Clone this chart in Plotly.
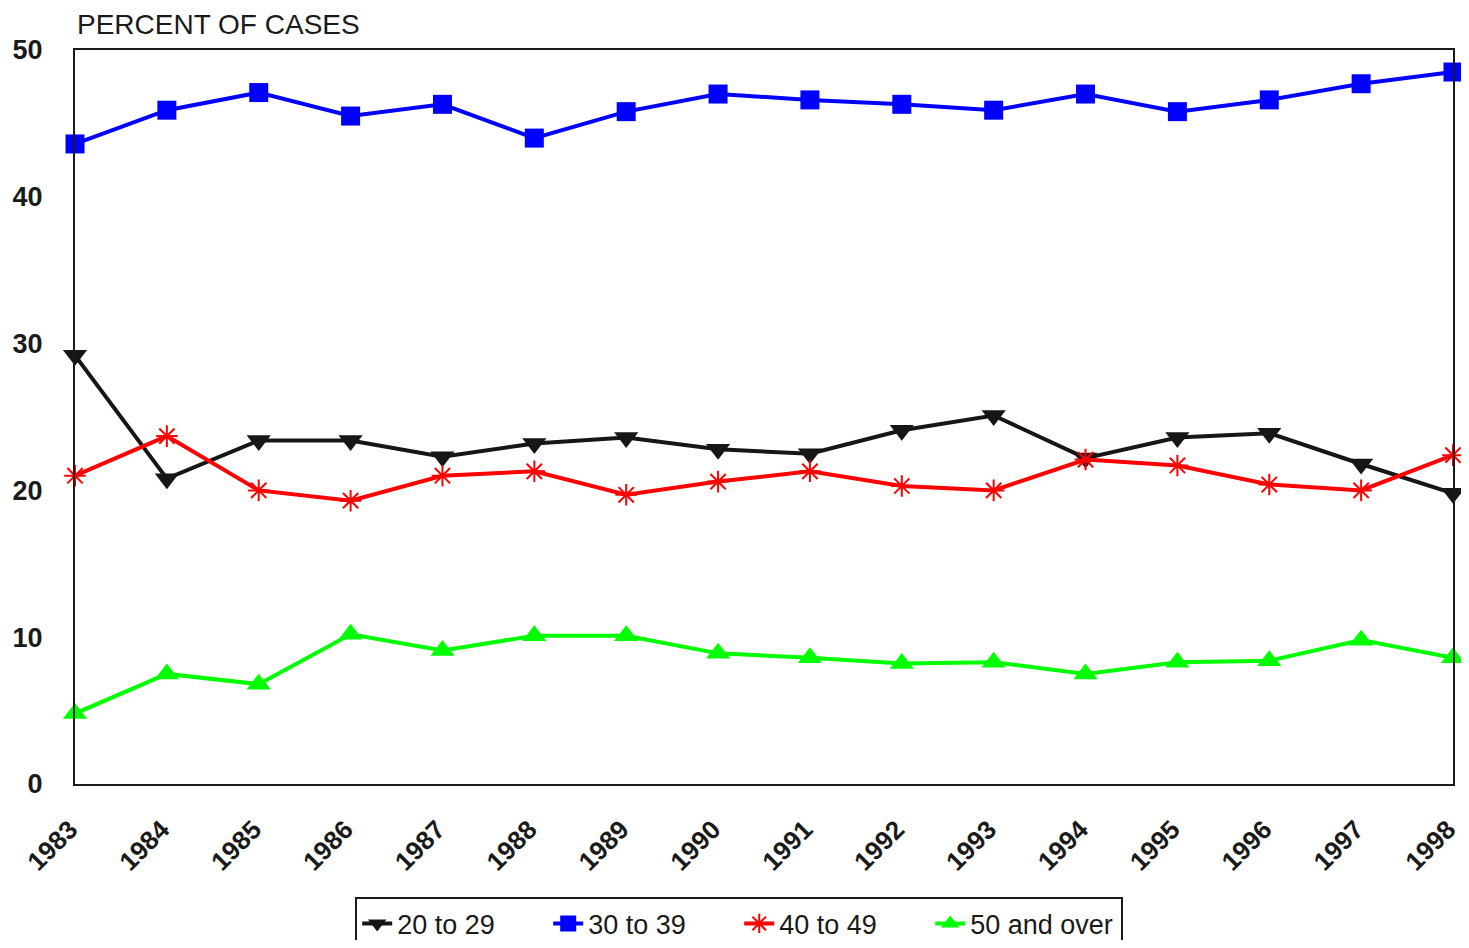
import plotly.graph_objects as go

years = [str(y) for y in range(1983, 1999)]
age_20_29 = [29.2, 20.8, 23.4, 23.4, 22.3, 23.2, 23.6, 22.8, 22.5, 24.1, 25.1, 22.2, 23.6, 23.9, 21.8, 19.8]
age_30_39 = [43.6, 45.9, 47.1, 45.5, 46.3, 44.0, 45.8, 47.0, 46.6, 46.3, 45.9, 47.0, 45.8, 46.6, 47.7, 48.5]
age_40_49 = [21.0, 23.7, 20.0, 19.3, 21.0, 21.3, 19.7, 20.6, 21.3, 20.3, 20.0, 22.1, 21.7, 20.4, 20.0, 22.4]
age_50_up = [4.8, 7.5, 6.8, 10.2, 9.1, 10.1, 10.1, 8.9, 8.6, 8.2, 8.3, 7.5, 8.3, 8.4, 9.8, 8.6]

series = [
    ("20 to 29", age_20_29, "#161616", "triangle-down", 21, None),
    ("30 to 39", age_30_39, "#0000ff", "square", 19, None),
    ("40 to 49", age_40_49, "#ff0000", "asterisk-open", 18, 2),
    ("50 and over", age_50_up, "#00ff00", "triangle-up", 21, None),
]

fig = go.Figure()
for name, vals, color, sym, size, lw in series:
    marker = dict(symbol=sym, size=size, color=color)
    if lw:
        marker["line"] = dict(color=color, width=lw)
    fig.add_trace(go.Scatter(
        x=years, y=vals, name=name, mode="lines+markers",
        line=dict(color=color, width=4), marker=marker, cliponaxis=False,
    ))

FONT = "Liberation Sans, Arial, Helvetica, sans-serif"

fig.update_layout(
    width=1453, height=932,
    margin=dict(l=67, r=8, t=42, b=156, autoexpand=False),
    paper_bgcolor="white", plot_bgcolor="white",
    showlegend=True,
    legend=dict(
        orientation="h", x=0.482, xanchor="center", y=-0.1545, yanchor="top",
        font=dict(family=FONT, size=27, color="#1a1a1a"),
        bordercolor="#1a1a1a", borderwidth=2,
        entrywidth=146, entrywidthmode="pixels",
        tracegroupgap=0,
    ),
    annotations=[dict(
        text="PERCENT OF CASES", xref="paper", yref="paper", x=0, y=1.0,
        xanchor="left", yanchor="bottom", yshift=8, showarrow=False,
        font=dict(family=FONT, size=28, color="#1a1a1a"),
    )],
)

fig.update_xaxes(
    type="category", range=[0, 15], showgrid=False, zeroline=False,
    showline=True, linecolor="#1a1a1a", linewidth=2, mirror=True,
    ticks="", tickangle=-45, ticklabelstandoff=18, ticklabelshift=-5, automargin=False,
    tickfont=dict(family=FONT, size=26, color="#1a1a1a", weight="bold"),
)
fig.update_yaxes(
    range=[0, 50], dtick=10, showgrid=False, zeroline=False,
    showline=True, linecolor="#1a1a1a", linewidth=2, mirror=True,
    ticks="", ticklabelstandoff=25, automargin=False,
    tickfont=dict(family=FONT, size=27, color="#1a1a1a", weight="bold"),
)

fig.write_html("out.html")
